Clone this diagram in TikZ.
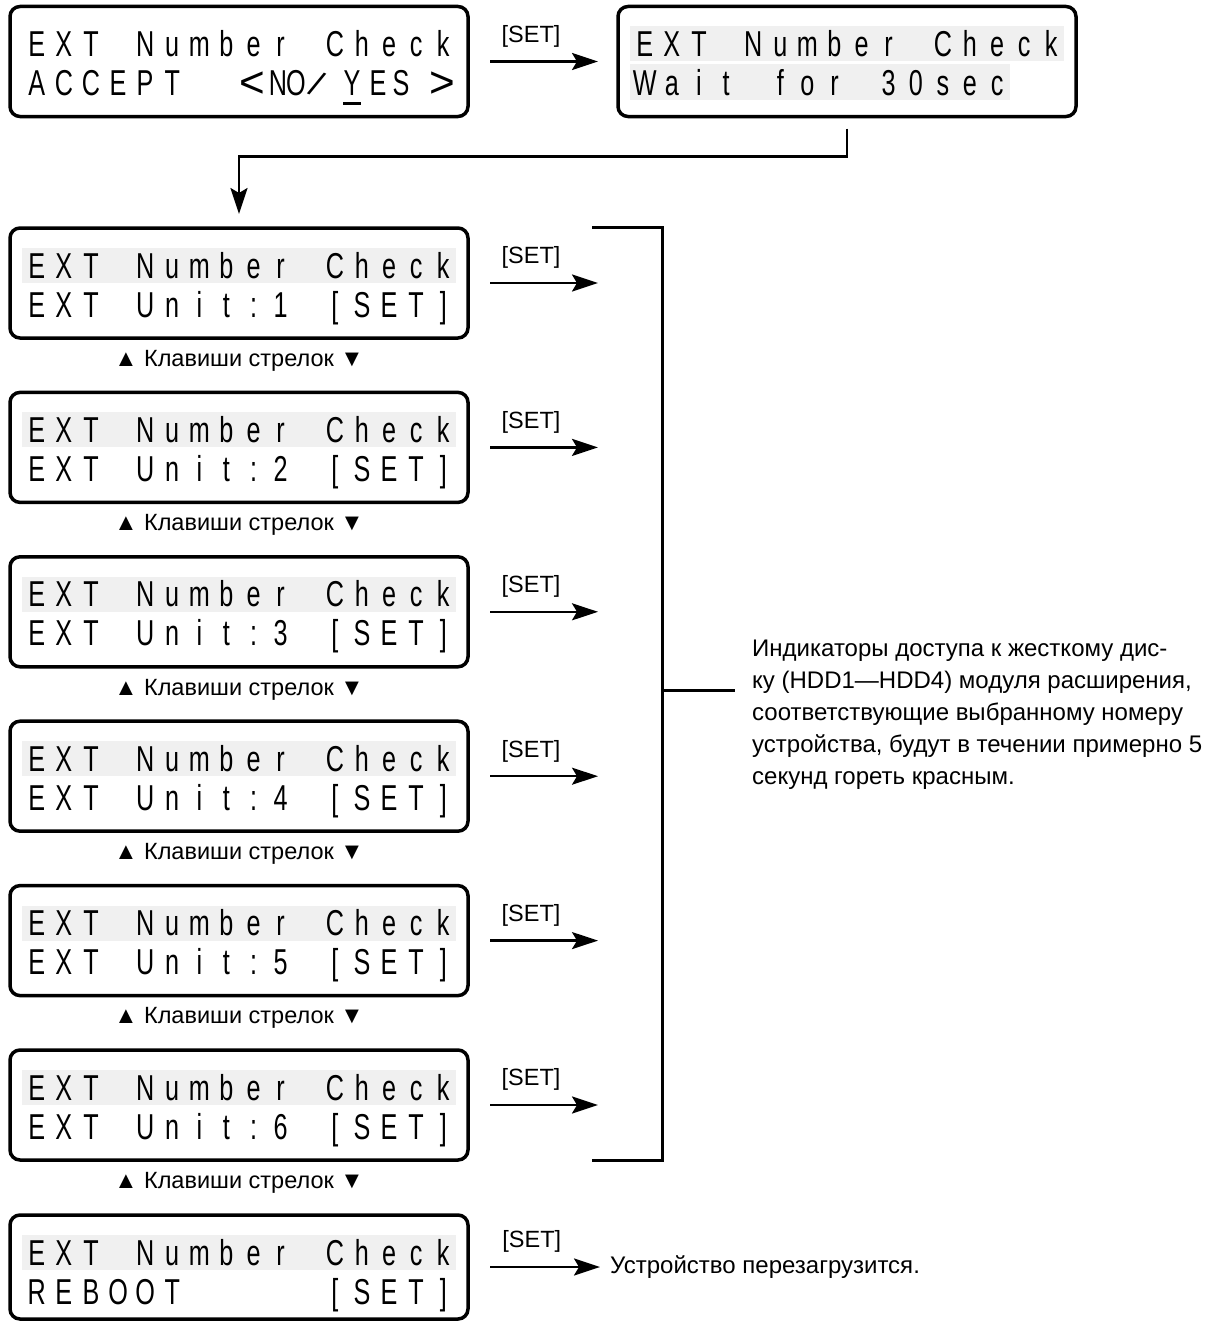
\documentclass[tikz,border=0pt]{standalone}
\usepackage{fontspec}
\setmainfont{Liberation Sans}
\newfontfamily\lcdfont[FakeStretch=0.7]{Liberation Sans}
\newfontfamily\lcdwide{Liberation Sans}
\usetikzlibrary{positioning, calc, arrows.meta}

%% one LCD row: box, row tag, baseline below box top, characters
\newcommand{\lcdrow}[4]{%
  \foreach \ch [count=\k from 0] in {#4}
    \node[lcdchar] (#1#2-\k) at ($(#1.north)+(-202.25+27.1*\k, #3)$) {\ch};
}
%% grey band behind a row: box, top, bottom, cells
\newcommand{\lcdband}[4]{%
  \fill[band] ($(#1.north)+(-216.8, #2)$) rectangle ($(#1.north)+(-216.8+27.1*#4, #3)$);
}

\begin{document}
\begin{tikzpicture}[
    x=1pt, y=-1pt,
    lcdbox/.style   = {rectangle, draw=black, line width=3.5pt, rounded corners=10pt,
                       minimum width=458pt, minimum height=110pt,
                       inner sep=0pt, outer sep=0pt},
    lcdchar/.style  = {anchor=base, inner sep=0pt,
                       font=\lcdfont\fontsize{36}{40}\selectfont},
    lcdsym/.style   = {anchor=base, inner sep=0pt,
                       font=\lcdwide\fontsize{44}{46}\selectfont},
    band/.style     = {fill=black!6},
    setarrow/.style = {line width=2.5pt, draw=black,
                       -{Stealth[length=26pt, width=17pt, inset=5pt]}},
    conn/.style     = {line width=2.5pt, draw=black,
                       -{Stealth[length=26pt, width=17pt, inset=5pt]}},
    bracket/.style  = {line width=3pt, draw=black},
    setlbl/.style   = {inner sep=0pt, font=\fontsize{23.5}{26}\selectfont},
    keylbl/.style   = {inner sep=0pt, font=\fontsize{23.5}{26}\selectfont},
    note/.style     = {inner sep=0pt, align=left, font=\fontsize{24}{32}\selectfont},
]
\useasboundingbox (0,0) rectangle (1231,1322);

%% ============================================================
%% TOP ROW
%% ============================================================
\node[lcdbox] (accept) at (239, 61.5) {};
\node[lcdbox] (wait)   at (847, 61.5) {};

\lcdband{wait}{20}{55}{16}
\lcdband{wait}{58}{93}{14}

\lcdrow{accept}{r1}{50}{E,X,T,{},N,u,m,b,e,r,{},C,h,e,c,k}
\lcdrow{accept}{r2}{89}{A,C,C,E,P,T}
\foreach \px/\ch [count=\k] in {278/N, 296/O, 352/Y, 378/E, 401/S}
  \node[lcdchar] (acceptyn-\k) at (\px, 95.5) {\ch};
\node[lcdsym] (acceptlt) at (252, 97.5) {<};
\node[lcdsym] (acceptgt) at (442, 97.5) {>};
\node[lcdsym, anchor=center, rotate=-24, scale=0.8] (acceptsl) at (317, 84) {/};
\draw[line width=2.5pt] ([yshift=-8pt]acceptyn-3.base west) -- ([yshift=-8pt]acceptyn-3.base east);

\lcdrow{wait}{r1}{50}{E,X,T,{},N,u,m,b,e,r,{},C,h,e,c,k}
\lcdrow{wait}{r2}{89}{W,a,i,t,{},f,o,r,{},3,0,s,e,c}

\draw[setarrow] ([xshift=22pt]accept.east) -- node[setlbl, above=13pt, pos=0.38] (setlbl0) {[SET]} ([xshift=-20pt]wait.west);

%% ============================================================
%% UNIT BOXES
%% ============================================================
\foreach \n in {1,...,6} {
  \node[lcdbox] (unit\n) at (239, 283+164.4*\n-164.4) {};
  \lcdband{unit\n}{20}{55}{16}
  \lcdrow{unit\n}{r1}{50}{E,X,T,{},N,u,m,b,e,r,{},C,h,e,c,k}
  \lcdrow{unit\n}{r2}{89}{E,X,T,{},U,n,i,t,:,\n,{},[,S,E,T,]}
  \draw[setarrow] ([xshift=22pt]unit\n.east) -- node[setlbl, above=13pt, pos=0.38] (setlbl\n) {[SET]} ++(108,0);
  \node[keylbl, below=12pt of unit\n] (keys\n) {▲ Клавиши стрелок ▼};
}

\draw[conn] ([yshift=-12pt]wait.south) -- ++(0,28) -| ([yshift=14pt]unit1.north);

%% ============================================================
%% REBOOT BOX
%% ============================================================
\node[lcdbox, minimum height=104pt] (reboot) at (239, 1267) {};
\lcdband{reboot}{20}{55}{16}
\lcdrow{reboot}{r1}{50}{E,X,T,{},N,u,m,b,e,r,{},C,h,e,c,k}
\lcdrow{reboot}{r2}{89}{R,E,B,O,O,T,{},{},{},{},{},[,S,E,T,]}

\node[note, anchor=west] (rebootnote) at ([xshift=142pt]reboot.east) {Устройство перезагрузится.};
\draw[setarrow] ([xshift=22pt]reboot.east) -- node[setlbl, above=13pt, pos=0.38] (setlbl7) {[SET]} ([xshift=-10pt]rebootnote.west);

%% ============================================================
%% BRACKET AND NOTE
%% ============================================================
\coordinate (brTop) at (592, 227);
\coordinate (brBot) at (592, 1160);
\coordinate (brMid) at (662, 690);
\node[note, anchor=west] (hddnote) at (752, 715)
  {Индикаторы доступа к жесткому дис-\\ку (HDD1—HDD4) модуля расширения,\\соответствующие выбранному номеру\\устройства, будут в течении примерно 5\\секунд гореть красным.};
\draw[bracket] (brTop) -- (brTop -| brMid) -- (brBot -| brMid) -- (brBot);
\draw[bracket] (brMid) -- ++(73,0);

\end{tikzpicture}
\end{document}
